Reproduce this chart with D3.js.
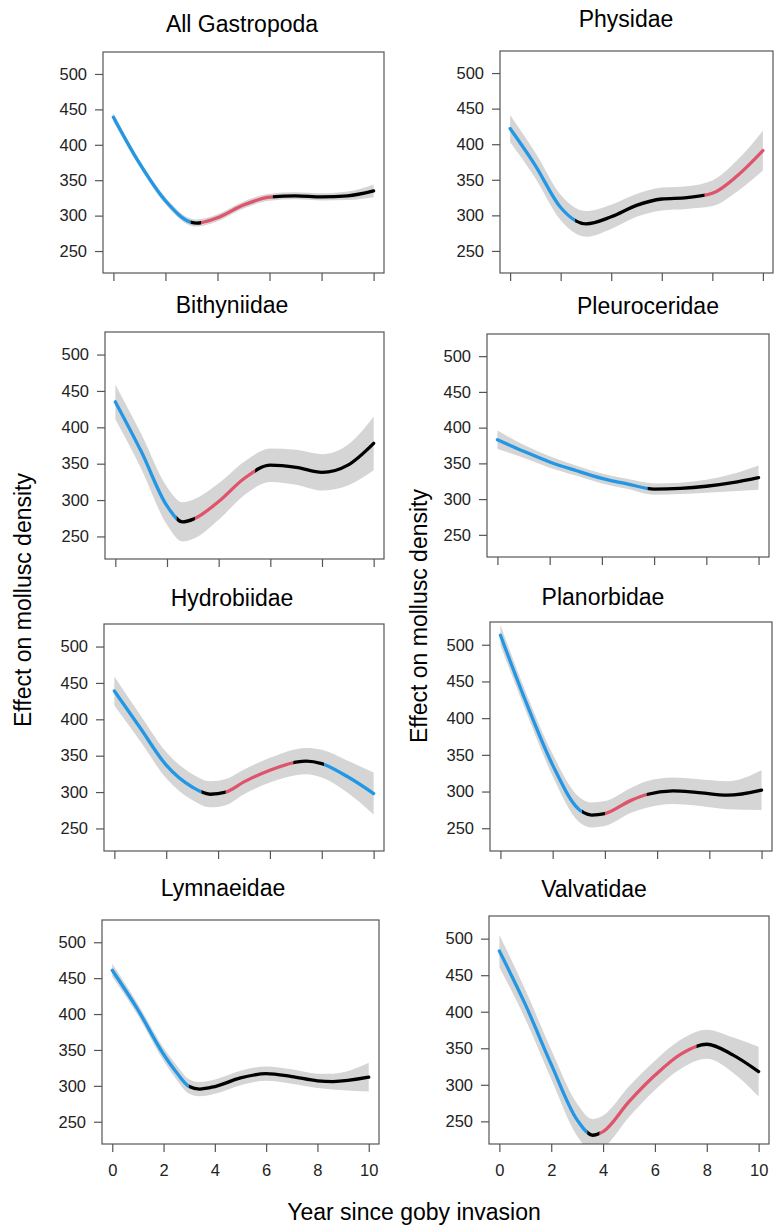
<!DOCTYPE html>
<html>
<head>
<meta charset="utf-8">
<script src="https://cdn.jsdelivr.net/npm/d3@7"></script>
<style>
  body { margin: 0; background: #fff; }
  text { font-family: "Liberation Sans", Arial, sans-serif; }
</style>
</head>
<body>
<svg id="chart"></svg>
<script>
const width = 777;
const height = 1228;
const svg = d3.select("svg#chart").attr("width", width).attr("height", height);

const xTicks = [0, 2, 4, 6, 8, 10];
const yTicks = [250, 300, 350, 400, 450, 500];

const titles = ["All Gastropoda", "Physidae", "Bithyniidae", "Pleuroceridae",
                "Hydrobiidae", "Planorbidae", "Lymnaeidae", "Valvatidae"];

const yrGastropoda  = [0, 1, 2, 3, 3.2, 4, 5, 6, 7, 8, 9, 10];
const fitGastropoda = [439, 374, 321, 290.5, 289.5, 297, 315, 326, 328, 326.5, 328, 335];
const ciGastropoda  = [6, 5, 5, 5, 5, 5, 5, 5, 5, 5, 6, 9];

const yrPhysidae  = [0, 1, 2, 3, 4, 5, 6, 7, 8, 9, 10];
const fitPhysidae = [422, 370, 311, 288, 298, 314, 323, 325, 331, 356, 391];
const ciPhysidae  = [19, 18, 18, 18, 17, 16, 16, 16, 18, 22, 28];

const yrBithyniidae  = [0, 1, 2, 2.6, 3, 4, 5, 6, 7, 8, 9, 10];
const fitBithyniidae = [435, 367, 292, 270, 273.5, 298, 330, 348, 345, 338, 348, 378];
const ciBithyniidae  = [24, 24, 26, 27, 27, 25, 23, 23, 24, 25, 28, 37];

const yrPleuroceridae  = [0, 1, 2, 3, 4, 5, 6, 7, 8, 9, 10];
const fitPleuroceridae = [383, 367, 352, 340, 329, 321, 314, 315, 318, 323, 330];
const ciPleuroceridae  = [13, 9, 8, 7, 7, 7, 8, 8, 9, 12, 17];

const yrHydrobiidae  = [0, 1, 2, 3, 3.7, 4.3, 5, 6, 7, 7.4, 8, 9, 10];
const fitHydrobiidae = [439, 388, 337, 307, 297, 300, 314, 330, 341, 342.5, 339, 321, 298];
const ciHydrobiidae  = [20, 18, 18, 18, 18, 18, 17, 17, 18, 18, 19, 22, 29];

const yrPlanorbidae  = [0, 1, 2, 3, 3.5, 4, 5, 5.6, 6.6, 7.5, 8.7, 10];
const fitPlanorbidae = [513, 420, 336, 276, 268, 270, 288, 296, 301, 299, 295, 302];
const ciPlanorbidae  = [14, 13, 15, 17, 17, 17, 17, 18, 18, 18, 19, 27];

const yrLymnaeidae  = [0, 1, 2, 2.5, 3, 3.4, 4, 5, 6, 7, 8, 8.6, 10];
const fitLymnaeidae = [461, 406, 344, 319, 299, 295.5, 299, 311, 317, 313, 307, 306, 312];
const ciLymnaeidae  = [9, 8, 9, 10, 10, 10, 10, 10, 10, 10, 10, 11, 20];

const yrValvatidae  = [0, 1, 2, 3, 3.6, 4, 5, 6, 7, 8, 9, 10];
const fitValvatidae = [483, 410, 328, 252, 231, 236, 277, 313, 342, 355.5, 341, 318];
const ciValvatidae  = [22, 20, 20, 22, 22, 22, 21, 20, 20, 20, 24, 34];

// stretches of significant decrease / increase / no change
const segGastropoda = [[0, 2.97, "dec"], [2.97, 3.37, "ns"], [3.37, 6.13, "inc"], [6.13, 10, "ns"]];
const segPhysidae = [[0, 2.57, "dec"], [2.57, 7.7, "ns"], [7.7, 10, "inc"]];
const segBithyniidae = [[0, 2.37, "dec"], [2.37, 3.08, "ns"], [3.08, 5.41, "inc"], [5.41, 10, "ns"]];
const segPleuroceridae = [[0, 5.75, "dec"], [5.75, 10, "ns"]];
const segHydrobiidae = [[0, 3.36, "dec"], [3.36, 4.3, "ns"], [4.3, 6.9, "inc"], [6.9, 8.09, "ns"], [8.09, 10, "dec"]];
const segPlanorbidae = [[0, 3.12, "dec"], [3.12, 4.0, "ns"], [4.0, 5.6, "inc"], [5.6, 10, "ns"]];
const segLymnaeidae = [[0, 2.99, "dec"], [2.99, 10, "ns"]];
const segValvatidae = [[0, 3.39, "dec"], [3.39, 3.87, "ns"], [3.87, 7.6, "inc"], [7.6, 10, "ns"]];

const yrs = [yrGastropoda, yrPhysidae, yrBithyniidae, yrPleuroceridae,
             yrHydrobiidae, yrPlanorbidae, yrLymnaeidae, yrValvatidae];
const fits = [fitGastropoda, fitPhysidae, fitBithyniidae, fitPleuroceridae,
              fitHydrobiidae, fitPlanorbidae, fitLymnaeidae, fitValvatidae];
const cis = [ciGastropoda, ciPhysidae, ciBithyniidae, ciPleuroceridae,
             ciHydrobiidae, ciPlanorbidae, ciLymnaeidae, ciValvatidae];
const segs = [segGastropoda, segPhysidae, segBithyniidae, segPleuroceridae,
              segHydrobiidae, segPlanorbidae, segLymnaeidae, segValvatidae];

const trendColor = { dec: "#2297E6", inc: "#DF536B", ns: "#000000" };

// panel boxes [left, top, right, bottom, titleX, titleY]
const layout = [
  [103, 52, 384, 273, 242, 32],
  [500, 51, 773, 273, 626, 27],
  [105, 332, 384, 559, 232, 313],
  [487, 334, 769, 557, 648, 314],
  [104, 624, 384, 851, 232, 606],
  [490, 622, 772, 851, 603, 605],
  [102, 920, 379, 1144, 223, 896],
  [489, 916, 769, 1144, 594, 897]
];

const defs = svg.append("defs");

titles.forEach(function(title, i) {
  const [x0, y0, x1, y1, tx, ty] = layout[i];
  const data = yrs[i].map((yr, k) => ({ year: yr, fit: fits[i][k], ci: cis[i][k] }));

  const x = d3.scaleLinear().domain([-0.4, 10.4]).range([x0, x1]);
  const y = d3.scaleLinear().domain([219, 531]).range([y1, y0]);

  const g = svg.append("g").attr("class", "panel");

  defs.append("clipPath").attr("id", "box" + i)
    .append("rect")
      .attr("x", x0).attr("y", y0)
      .attr("width", x1 - x0).attr("height", y1 - y0);

  const band = d3.area()
    .x(d => x(d.year))
    .y0(d => y(d.fit - d.ci))
    .y1(d => y(d.fit + d.ci))
    .curve(d3.curveMonotoneX);

  g.append("path")
    .datum(data)
    .attr("d", band)
    .attr("fill", "#D5D5D5")
    .attr("clip-path", "url(#box" + i + ")");

  const line = d3.line()
    .x(d => x(d.year))
    .y(d => y(d.fit))
    .curve(d3.curveMonotoneX);

  segs[i].forEach(function(s, j) {
    const id = "seg" + i + "_" + j;
    const first = j == 0, last = j == segs[i].length - 1;
    defs.append("clipPath").attr("id", id)
      .append("rect")
        .attr("x", x(s[0]) - (first ? 3 : 0))
        .attr("y", y0)
        .attr("width", x(s[1]) - x(s[0]) + (first ? 3 : 0) + (last ? 3 : 0))
        .attr("height", y1 - y0);
    g.append("path")
      .datum(data)
      .attr("d", line)
      .attr("fill", "none")
      .attr("stroke", trendColor[s[2]])
      .attr("stroke-width", 3.3)
      .attr("stroke-linecap", "round")
      .attr("clip-path", "url(#" + id + ")");
  });

  g.append("rect")
    .attr("x", x0).attr("y", y0)
    .attr("width", x1 - x0).attr("height", y1 - y0)
    .attr("fill", "none")
    .attr("stroke", "#555")
    .attr("stroke-width", 1.2);

  const yAxis = g.append("g")
    .attr("transform", "translate(" + x0 + ",0)")
    .call(d3.axisLeft(y).tickValues(yTicks).tickSize(8).tickPadding(8));
  yAxis.select(".domain").remove();

  const bottomRow = i >= 6;
  const xAxis = g.append("g")
    .attr("transform", "translate(0," + y1 + ")")
    .call(d3.axisBottom(x).tickValues(xTicks).tickSize(8).tickPadding(12)
      .tickFormat(bottomRow ? d3.format("d") : ""));
  xAxis.select(".domain").remove();

  [yAxis, xAxis].forEach(function(ax) {
    ax.attr("font-family", "Liberation Sans, Arial, sans-serif").attr("font-size", 16.5);
    ax.selectAll("line").attr("stroke", "#555").attr("stroke-width", 1.2);
    ax.selectAll("text").attr("fill", "#222");
  });

  g.append("text")
    .attr("x", tx).attr("y", ty)
    .attr("text-anchor", "middle")
    .attr("font-size", 23)
    .attr("fill", "#000")
    .text(title);
});

// shared axis titles
svg.append("text")
  .attr("transform", "translate(31,600) rotate(-90)")
  .attr("text-anchor", "middle")
  .attr("font-size", 23)
  .text("Effect on mollusc density");

svg.append("text")
  .attr("transform", "translate(427,616) rotate(-90)")
  .attr("text-anchor", "middle")
  .attr("font-size", 23)
  .text("Effect on mollusc density");

svg.append("text")
  .attr("x", 414).attr("y", 1220)
  .attr("text-anchor", "middle")
  .attr("font-size", 23)
  .text("Year since goby invasion");
</script>
</body>
</html>
